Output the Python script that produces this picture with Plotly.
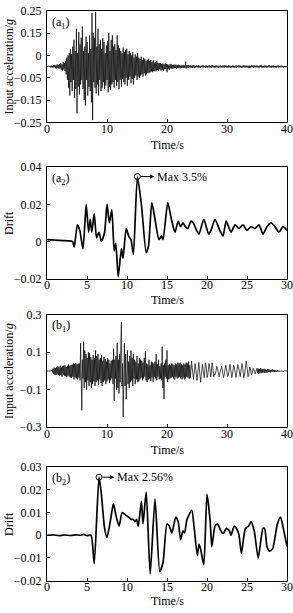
import plotly.graph_objects as go

# ---------------- data ----------------
# (a1) input acceleration, sampled every 0.1 s from 0 to 40 s, values in 0.001 g
a1_dt = 0.1
a1_milli_g = [
    0, 0, 0, 2, -2, 3, -3, 4, -4, 3,
    -5, 6, -4, 8, -7, 5, -9, 10, -6, 8,
    -10, 12, -8, 15, -14, 10, -18, 20, -12, 16,
    -20, 25, -35, 40, -60, 50, -95, 60, -130, 77,
    -70, 55, -110, 90, -60, 120, -140, 70, -100, 170,
    -210, 60, -90, 155, -125, 100, -80, 130, -60, 180,
    -100, 70, -150, 90, -175, 135, -60, 110, -130, 60,
    -90, 140, -110, 80, -160, 240, -240, 150, -70, 130,
    -95, 245, -120, 90, -80, 170, -130, 100, -60, 120,
    -110, 80, -95, 127, -70, 110, -100, 60, -85, 95,
    -60, 115, -116, 150, -90, 70, -105, 120, -80, 140,
    -70, 90, -95, 100, -60, 75, -85, 140, -70, 95,
    -100, 83, -60, 70, -90, 60, -55, 85, -70, 65,
    -80, 75, -50, 80, -86, 55, -60, 70, -45, 60,
    -75, 50, -55, 65, -80, 40, -50, 55, -40, 45,
    -60, 60, -45, 40, -50, 35, -40, 45, -35, 30,
    -45, 40, -30, 35, -40, 25, -35, 30, -28, 35,
    -30, 25, -25, 30, -22, 20, -25, 28, -20, 18,
    -22, 20, -18, 25, -15, 18, -20, 15, -12, 16,
    -18, 12, -15, 14, -20, 10, -12, 15, -10, 12,
    -25, 10, -12, 8, -14, 10, -8, 12, -9, 7,
    -10, 8, -7, 9, -6, 8, -10, 7, -6, 8,
    -7, 6, -8, 5, -6, 7, -5, 6, -7, 5,
    -6, 22, -8, 6, -5, 7, -6, 5, -4, 6,
    -5, 4, -6, 5, -4, 6, -5, 3, -4, 5,
    -3, 4, -5, 6, -4, 3, -5, 4, -3, 5,
    -4, 5, -3, 4, -6, 5, -4, 3, -5, 4,
    -3, 5, -4, 3, -5, 6, -3, 4, -4, 3,
    -5, 4, -3, 5, -4, 3, -6, 4, -3, 5,
    -4, 3, -5, 4, -3, 6, -4, 5, -3, 4,
    -5, 3, -4, 6, -3, 4, -5, 3, -4, 5,
    -3, 4, -5, 3, -4, 5, -6, 4, -3, 5,
    -4, 5, -3, 4, -5, 3, -4, 6, -3, 4,
    -5, 4, -3, 5, -4, 3, -5, 4, -6, 3,
    -4, 5, -3, 4, -5, 6, -3, 4, -4, 5,
    -3, 4, -5, 3, -4, 5, -3, 6, -4, 3,
    -5, 3, -4, 5, -3, 4, -5, 3, -4, 5,
    -3, 5, -4, 3, -5, 4, -3, 5, -4, 3,
    -4, 3, -5, 4, -3, 5, -4, 3, -3, 4,
    -3, 4, -3, 3, -4, 3, -2, 3, -3, 2,
    0,
]

# (a2) drift response
a2_time = [0, 1, 2, 3, 3.2, 3.4, 3.8, 4.1, 4.5, 4.9, 5.2, 5.4, 5.6, 5.9, 6.2, 6.5, 6.8,
           7.2, 7.5, 7.8, 8.1, 8.4, 8.6, 8.9, 9.3, 9.5, 9.9, 10.2, 10.5, 10.8, 11.3,
           11.8, 12.4, 12.7, 13.1, 13.5, 14.0, 14.3, 14.5, 15.1, 15.5, 16.0, 16.4,
           16.7, 17.0, 17.3, 17.6, 18.0, 18.3, 18.7, 19.0, 19.6, 20.2, 20.5, 21.0,
           21.6, 22.0, 22.4, 23.0, 23.5, 24.0, 24.5, 25.0, 25.5, 26.0, 26.5, 27.0,
           27.5, 28.0, 28.5, 29.0, 29.5, 30.0]
a2_drift = [0.001, 0.0008, 0.0005, 0.0002, 0.0, -0.003, 0.009, 0.006, -0.004, 0.020,
            0.005, 0.012, 0.005, 0.015, 0.002, 0.005, 0.000, 0.005, 0.020, 0.010,
            0.017, -0.005, -0.001, -0.019, -0.004, -0.009, 0.007, 0.003, 0.001,
            -0.007, 0.035, 0.020, -0.006, -0.002, 0.021, 0.012, 0.001, 0.003, 0.001,
            0.021, 0.013, 0.005, 0.011, 0.008, 0.010, 0.008, 0.007, 0.011, 0.010,
            0.006, 0.004, 0.012, 0.004, 0.006, 0.012, 0.006, 0.003, 0.011, 0.005,
            0.009, 0.007, 0.009, 0.006, 0.008, 0.007, 0.009, 0.004, 0.008, 0.010,
            0.008, 0.005, 0.008, 0.006]
a2_max_time = 11.3
a2_max_drift = 0.035
a2_max_label = "Max 3.5%"

# (b1) input acceleration, sampled every 0.1 s from 0 to 40 s, values in 0.001 g
b1_dt = 0.1
b1_milli_g = [
    0, 0, 0, 0, 0, 0, 0, 0, 5, -8,
    12, -15, 18, -20, 16, -22, 20, -18, 25, -22,
    20, -25, 28, -22, 18, -30, 25, -20, 28, -26,
    30, -28, 22, -32, 28, -25, 35, -30, 28, -35,
    32, -38, 35, -30, 40, -45, 38, -35, 42, -40,
    36, -45, 40, -35, 40, -50, 148, -80, -210, 60,
    -40, 157, -90, 110, -60, 90, -100, 70, -50, 100,
    -80, 95, -60, 75, -90, 60, -70, 85, -55, 70,
    -80, 110, -60, 80, -50, 90, -75, 60, -45, 70,
    -65, 85, -80, 55, -60, 75, -50, 65, -70, 50,
    -55, 70, -45, 60, -65, 40, -50, 55, -40, 60,
    -70, 120, -160, 60, -40, 80, -100, 150, -90, 60,
    -120, 90, -60, 140, 260, -80, 40, -245, 60, 150,
    -80, 90, -150, 60, 110, -70, 50, -90, 80, -60,
    110, -50, 70, -80, 90, -40, 60, -70, 50, -45,
    80, -60, 40, -55, 70, -45, 60, -35, 55, -50,
    45, -40, 70, -30, 105, -50, 40, -60, 35, -45,
    60, -40, 30, -55, 50, -35, 45, -60, 40, -30,
    50, -40, 90, -50, 35, -30, 60, -45, 25, -40,
    40, -50, 130, -90, 30, -150, 40, -30, 60, -40,
    110, -60, 30, -45, 35, -40, 30, -35, 40, -30,
    35, -40, 30, -45, 40, -30, 35, -40, 45, -35,
    40, -30, 45, -40, 35, -45, 30, -35, 40, -45,
    35, -40, 45, -30, 40, -35, 50, -40, 30, -35,
    30, 52, 20, -20, -45, -20, 25, 40, 10, -35,
    -50, -20, 30, 45, 10, -30, -60, -25, 20, 35,
    10, -20, -35, 0, 44, 30, -10, -35, -20, 15,
    40, 25, -15, -30, -5, 44, 30, -10, -30, -15,
    -20, -10, 10, 25, 15, -5, -25, -30, -15, 5,
    20, 25, 10, -15, -35, -25, 0, 20, 30, 15,
    -10, -30, -25, 5, 30, 35, 10, -20, -35, -20,
    10, 30, 25, 0, -25, -35, -15, 15, 35, 25,
    -5, -30, -30, -5, 25, 40, 20, -10, -35, -25,
    5, 35, 52, 30, -5, -30, -20, 5, 20, 10,
    -10, -20, -10, 10, 15, 5, -10, -15, -5, 10,
    15, -10, 12, -15, 10, -12, 15, -10, 12, -8,
    10, -8, 12, -10, 8, -10, 6, -8, 10, -6,
    8, -6, 5, -8, 6, -5, 8, -4, 6, -5,
    5, -4, 3, -5, 4, -3, 2, -3, 2, -2,
    2, -1, 1, -2, 1, -1, 1, 0, 0, 0,
    0,
]

# (b2) drift response
b2_time = [0, 0.8, 1.5, 2.2, 3.0, 3.6, 4.2, 4.6, 5.0, 5.5, 5.9, 6.5, 6.8, 7.2, 7.5,
           8.0, 8.3, 8.6, 9.0, 9.4, 9.8, 10.2, 10.5, 10.8, 11.0, 11.2, 11.4, 11.8,
           12.0, 12.4, 12.9, 13.5, 14.1, 14.5, 15.0, 15.3, 15.6, 16.1, 16.4, 16.7,
           17.0, 17.2, 17.5, 18.1, 18.4, 18.8, 19.0, 19.2, 19.6, 20.0, 20.4, 20.6,
           21.0, 21.3, 21.6, 21.9, 22.1, 22.4, 22.8, 23.0, 23.4, 23.7, 24.0, 24.3,
           24.8, 25.2, 25.5, 25.9, 26.4, 27.0, 27.2, 27.5, 27.8, 28.2, 28.8, 29.2,
           29.6, 30.0]
b2_drift = [0.0, 0.0002, -0.0002, 0.0001, -0.0001, 0.0002, 0.0, 0.0004, -0.0002, 0.0,
            -0.0125, 0.0256, 0.018, 0.003, -0.001, 0.008, 0.014, 0.009, 0.004, 0.010,
            0.009, 0.008, 0.007, 0.007, 0.006, 0.007, 0.004, 0.015, 0.005, 0.019,
            -0.017, 0.016, -0.016, -0.012, 0.005, 0.004, 0.001, 0.008, 0.006, -0.002,
            0.002, 0.001, 0.007, 0.011, 0.003, -0.009, -0.004, -0.006, -0.013, 0.018,
            0.006, -0.005, 0.004, 0.005, 0.003, 0.001, 0.001, 0.003, 0.002, 0.000,
            0.004, 0.003, 0.000, -0.008, 0.003, 0.004, 0.006, 0.002, -0.010, 0.003,
            0.003, -0.005, -0.007, -0.006, 0.005, 0.008, 0.002, -0.005]
b2_max_time = 6.5
b2_max_drift = 0.0256
b2_max_label = "Max 2.56%"

panel_labels = ["(a<sub>1</sub>)", "(a<sub>2</sub>)", "(b<sub>1</sub>)", "(b<sub>2</sub>)"]
x_title = "Time/s"
acc_title = "Input acceleration/<i>g</i>"
drift_title = "Drift"

a1_ytickvals = [0.25, 0.15, 0.05, -0.05, -0.15, -0.25]
a1_yticktext = ["0.25", "0.15", "0", "\u22120.05", "\u22120.15", "\u22120.25"]
a2_ytickvals = [0.04, 0.02, 0, -0.02]
a2_yticktext = ["0.04", "0.02", "0", "\u22120.02"]
b1_ytickvals = [0.3, 0.1, -0.1, -0.3]
b1_yticktext = ["0.3", "0.1", "\u22120.1", "\u22120.3"]
b2_ytickvals = [0.03, 0.02, 0.01, 0, -0.01, -0.02]
b2_yticktext = ["0.03", "0.02", "0.01", "0", "\u22120.01", "\u22120.02"]
x40_ticks = [0, 10, 20, 30, 40]
x30_ticks = [0, 5, 10, 15, 20, 25, 30]

# ---------------- figure ----------------
W, H = 293, 613
L, R = 47, 6
FONT = "Liberation Serif"
FS = 12

def dom(top_px, bot_px):
    return [1 - bot_px / H, 1 - top_px / H]

domains = [dom(4, 118), dom(164, 278), dom(315, 430), dom(471, 587)]
xtitle_px = [141, 300, 453, 607.5]

a1_t = [round(i * a1_dt, 2) for i in range(len(a1_milli_g))]
a1_g = [v / 1000 for v in a1_milli_g]
b1_t = [round(i * b1_dt, 2) for i in range(len(b1_milli_g))]
b1_g = [v / 1000 for v in b1_milli_g]

fig = go.Figure()
fig.add_trace(go.Scatter(x=a1_t, y=a1_g, mode="lines", line=dict(color="black", width=0.7),
                         xaxis="x", yaxis="y", showlegend=False))
fig.add_trace(go.Scatter(x=a2_time, y=a2_drift, mode="lines",
                         line=dict(color="black", width=1.7, shape="spline", smoothing=0.6),
                         xaxis="x2", yaxis="y2", showlegend=False))
fig.add_trace(go.Scatter(x=[a2_max_time], y=[a2_max_drift], mode="markers",
                         marker=dict(symbol="circle-open", size=6, color="black", line=dict(width=1)),
                         xaxis="x2", yaxis="y2", showlegend=False))
fig.add_trace(go.Scatter(x=b1_t, y=b1_g, mode="lines", line=dict(color="black", width=0.7),
                         xaxis="x3", yaxis="y3", showlegend=False))
fig.add_trace(go.Scatter(x=b2_time, y=b2_drift, mode="lines",
                         line=dict(color="black", width=1.7, shape="spline", smoothing=0.6),
                         xaxis="x4", yaxis="y4", showlegend=False))
fig.add_trace(go.Scatter(x=[b2_max_time], y=[b2_max_drift], mode="markers",
                         marker=dict(symbol="circle-open", size=6, color="black", line=dict(width=1)),
                         xaxis="x4", yaxis="y4", showlegend=False))

axis_common = dict(showline=True, linecolor="black", linewidth=1, mirror=True,
                   ticks="inside", ticklen=3, tickcolor="black", tickwidth=1,
                   showgrid=False, zeroline=False, ticklabeloverflow="allow",
                   tickfont=dict(family=FONT, size=FS, color="black"))

layout = dict(width=W, height=H, margin=dict(l=L, r=R, t=0, b=0),
              paper_bgcolor="white", plot_bgcolor="white",
              font=dict(family=FONT, size=FS, color="black"))

xranges = [[0, 40], [0, 30], [0, 40], [0, 30]]
xticks = [x40_ticks, x30_ticks, x40_ticks, x30_ticks]
yranges = [[-0.25, 0.25], [-0.02, 0.04], [-0.3, 0.3], [-0.02, 0.03]]
ytv = [a1_ytickvals, a2_ytickvals, b1_ytickvals, b2_ytickvals]
ytt = [a1_yticktext, a2_yticktext, b1_yticktext, b2_yticktext]

for i in range(4):
    sx = "" if i == 0 else str(i + 1)
    layout["xaxis" + sx] = dict(axis_common, domain=[0, 1], range=xranges[i],
                                tickvals=xticks[i], anchor="y" + sx,
                                ticklabelstandoff=-5)
    layout["yaxis" + sx] = dict(axis_common, domain=domains[i], range=yranges[i],
                                tickvals=ytv[i], ticktext=ytt[i], anchor="x" + sx,
                                ticklabelstandoff=2)

fig.update_layout(**layout)

ann = []
ytitles = [acc_title, drift_title, acc_title, drift_title]
for i in range(4):
    sx = "" if i == 0 else str(i + 1)
    d0, d1 = domains[i]
    ann.append(dict(text=panel_labels[i], xref="x" + sx + " domain", yref="y" + sx + " domain",
                    x=0.012, y=0.985, xanchor="left", yanchor="top", showarrow=False,
                    font=dict(family=FONT, size=FS)))
    ann.append(dict(text=x_title, xref="paper", yref="paper", x=0.5,
                    y=1 - xtitle_px[i] / H, xanchor="center", yanchor="middle",
                    showarrow=False, font=dict(family=FONT, size=FS)))
    ann.append(dict(text=ytitles[i], xref="paper", yref="paper", x=(9 - L) / (W - L - R),
                    y=(d0 + d1) / 2, xanchor="center", yanchor="middle", textangle=-90,
                    showarrow=False, font=dict(family=FONT, size=FS)))

# Max markers: arrow from circle to label
for sx, t0, v0, tend, label in [("2", a2_max_time, a2_max_drift, 13.4, a2_max_label),
                                ("4", b2_max_time, b2_max_drift, 8.4, b2_max_label)]:
    ann.append(dict(text="", x=tend, y=v0, xref="x" + sx, yref="y" + sx,
                    ax=t0 + 0.25, ay=v0, axref="x" + sx, ayref="y" + sx,
                    showarrow=True, arrowhead=2, arrowsize=0.8, arrowwidth=1,
                    arrowcolor="black", standoff=0, startstandoff=0))
    ann.append(dict(text=label, x=tend + 0.15, y=v0, xref="x" + sx, yref="y" + sx,
                    xanchor="left", yanchor="middle", showarrow=False,
                    font=dict(family=FONT, size=FS)))

fig.update_layout(annotations=ann)
fig.write_html("out.html")
